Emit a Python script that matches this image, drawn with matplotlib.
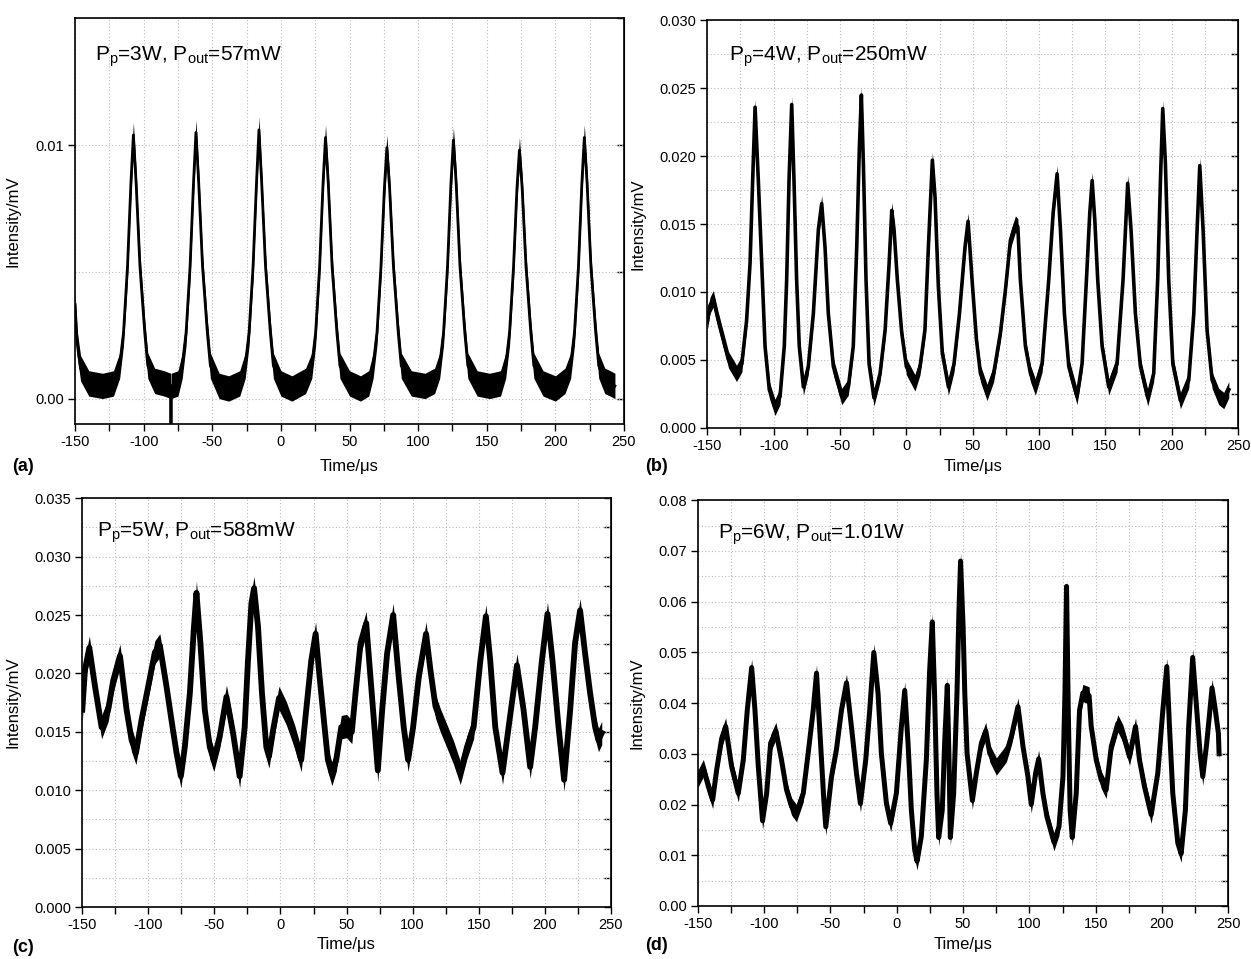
import matplotlib
matplotlib.use("Agg")
import matplotlib.pyplot as plt
from matplotlib.ticker import MultipleLocator, FormatStrFormatter

plt.rcParams["font.family"] = ["Liberation Sans", "DejaVu Sans"]
plt.rcParams["mathtext.default"] = "regular"
plt.rcParams["axes.unicode_minus"] = False

# (a) Pp=3W — times (us) and intensities (mV)
T_A = [-150, -148.5, -146, -140, -130, -122,
       -117.5, -114.7, -111.8, -109.3, -107.5, -105.5, -102.7, -99.2, -97.0,
       -92, -85, -80.3, -80.1, -79.9, -75,
       -71.9, -69.1, -66.2, -63.7, -61.9, -59.9, -57.1, -53.6, -51.4,
       -45, -38, -30,
       -26, -23.2, -20.3, -17.8, -16, -14, -11.2, -7.7, -5.5,
       0, 8, 18,
       22.5, 25.3, 28.2, 30.7, 32.5, 34.5, 37.3, 40.8, 43,
       50, 58, 64,
       67.2, 70, 72.9, 75.4, 77.2, 79.2, 82, 85.5, 87.7,
       95, 105, 112,
       115.7, 118.5, 121.4, 123.9, 125.7, 127.7, 130.5, 134, 136.2,
       143, 152, 160,
       163.8, 166.6, 169.5, 172, 173.8, 175.8, 178.6, 182.1, 184.3,
       191, 200, 207,
       211.1, 213.9, 216.8, 219.3, 221.1, 223.1, 225.9, 229.4, 231.6,
       236, 240, 243.4]
I_A = [0.0037, 0.0022, 0.0012, 0.0006, 0.0005, 0.0006,
       0.0013, 0.0026, 0.0052, 0.0085, 0.0104, 0.0085, 0.0052, 0.0026, 0.0013,
       0.0007, 0.0006, 0.0005, -0.0013, 0.0005, 0.0006,
       0.0013, 0.0026, 0.0052, 0.0085, 0.0105, 0.0085, 0.0052, 0.0026, 0.0013,
       0.0005, 0.0004, 0.0006,
       0.0013, 0.0026, 0.0052, 0.0085, 0.0106, 0.0085, 0.0052, 0.0026, 0.0013,
       0.0006, 0.0004, 0.0007,
       0.0013, 0.0026, 0.0052, 0.0085, 0.0103, 0.0085, 0.0052, 0.0026, 0.0013,
       0.0006, 0.0004, 0.0006,
       0.0013, 0.0026, 0.0052, 0.0083, 0.0099, 0.0083, 0.0052, 0.0026, 0.0013,
       0.0006, 0.0005, 0.0007,
       0.0013, 0.0026, 0.0052, 0.0085, 0.0102, 0.0085, 0.0052, 0.0026, 0.0013,
       0.0006, 0.0005, 0.0006,
       0.0013, 0.0026, 0.0052, 0.0083, 0.0098, 0.0083, 0.0052, 0.0026, 0.0013,
       0.0006, 0.0004, 0.0007,
       0.0013, 0.0026, 0.0052, 0.0085, 0.0103, 0.0085, 0.0052, 0.0026, 0.0013,
       0.0007, 0.0006, 0.0005]

# (b) Pp=4W
T_B = [-150, -148, -145.5, -142, -138, -134, -128, -124, -120.4, -117.8,
       -115.8, -114, -111.6, -109, -106.5, -103.3, -99, -95.2, -92, -90.2,
       -88.4, -86.4, -84.7, -82.7, -80.7, -77.6, -73.9, -70.1, -66.3, -63.8,
       -61.3, -58.8, -55, -48.7, -43.7, -40, -37.4, -35.4, -33.9, -32.4,
       -30.4, -28.1, -24.4, -19.8, -16, -13, -11, -9.3, -6.8, -3.5,
       0, 6.5, 10.3, 14, 16.6, 19.6, 21.6, 24.1, 27.1, 31.7,
       35.9, 40, 44.2, 46.5, 49.5, 52.8, 55.8, 60.8, 65.8, 70.9,
       74.6, 78.4, 82.2, 84, 85.9, 89.7, 93.5, 97.2, 102.3, 107.3,
       110.6, 113.6, 116.1, 119.1, 122.4, 128.6, 132.4, 135.7, 138.2, 140,
       142, 144.2, 147.5, 152.5, 158.8, 163.3, 166.8, 169.3, 172.6, 176.4,
       181.9, 186.4, 189.4, 191.5, 193.2, 195.2, 197.7, 200.8, 206.5, 212.8,
       216.6, 219.1, 221.1, 223.6, 226.6, 230.4, 235.4, 239.2, 243]
I_B = [0.0078, 0.0090, 0.0095, 0.0080, 0.0065, 0.0050, 0.0040, 0.0047, 0.0079, 0.0121,
       0.0183, 0.0236, 0.0183, 0.0121, 0.0060, 0.0028, 0.0015, 0.0023, 0.0060, 0.0109,
       0.0183, 0.0238, 0.0183, 0.0109, 0.0060, 0.0030, 0.0045, 0.0084, 0.0146, 0.0165,
       0.0133, 0.0084, 0.0045, 0.0023, 0.0030, 0.0060, 0.0133, 0.0207, 0.0245, 0.0195,
       0.0109, 0.0047, 0.0022, 0.0040, 0.0072, 0.0121, 0.0160, 0.0146, 0.0109, 0.0070,
       0.0045, 0.0033, 0.0045, 0.0072, 0.0133, 0.0197, 0.0170, 0.0104, 0.0055, 0.0030,
       0.0047, 0.0084, 0.0133, 0.0152, 0.0109, 0.0065, 0.0040, 0.0026, 0.0040, 0.0070,
       0.0101, 0.0138, 0.0150, 0.0148, 0.0109, 0.0060, 0.0040, 0.0030, 0.0047, 0.0109,
       0.0158, 0.0187, 0.0146, 0.0084, 0.0045, 0.0023, 0.0047, 0.0109, 0.0158, 0.0182,
       0.0153, 0.0109, 0.0060, 0.0030, 0.0047, 0.0109, 0.0180, 0.0146, 0.0084, 0.0045,
       0.0022, 0.0040, 0.0109, 0.0183, 0.0235, 0.0195, 0.0109, 0.0047, 0.0020, 0.0035,
       0.0084, 0.0146, 0.0193, 0.0146, 0.0072, 0.0035, 0.0023, 0.0020, 0.0028]

# (c) Pp=5W
T_C = [-150, -148, -144.7, -140.4, -135.4, -130.4, -126.6, -121.5, -116.5, -112.7,
       -109.4, -105.2, -100.1, -95.1, -91.3, -86.3, -82.5, -78.7, -75.4, -72.4,
       -68.6, -65.6, -63.6, -60.6, -57.3, -53.5, -50.5, -46, -40.9, -35.9,
       -30.9, -27.1, -24.6, -22, -20, -17, -14, -10.7, -8.7, -5.2,
       -1.1, 4.4, 10.7, 15.7, 19.5, 23.3, 26.6, 29.6, 33.4, 35.9,
       38.9, 42.2, 46, 50, 54, 56.8, 60.6, 64.9, 68.1, 70.7,
       73.7, 77, 80.7, 85.3, 89.5, 93.3, 96.6, 100.4, 104.7, 110.2,
       113.5, 117.3, 121, 126.1, 131.1, 136.1, 141.2, 146.2, 151.3, 155.5,
       158.8, 162.6, 168.1, 172.7, 179, 184, 189, 192.8, 197.9, 202.1,
       205.9, 210.5, 214.7, 219.3, 223, 226.8, 230.6, 234.4, 238.2, 240.7,
       243.2]
I_C = [0.0169, 0.0203, 0.0222, 0.0189, 0.0154, 0.0169, 0.0194, 0.0215, 0.0169, 0.0143,
       0.0132, 0.0160, 0.0189, 0.0218, 0.0224, 0.0189, 0.0160, 0.0132, 0.0112, 0.0137,
       0.0183, 0.0238, 0.0269, 0.0226, 0.0169, 0.0137, 0.0126, 0.0146, 0.0180, 0.0149,
       0.0112, 0.0154, 0.0211, 0.0260, 0.0273, 0.0240, 0.0183, 0.0137, 0.0129, 0.0154,
       0.0179, 0.0166, 0.0146, 0.0126, 0.0169, 0.0211, 0.0234, 0.0197, 0.0154, 0.0126,
       0.0114, 0.0126, 0.0154, 0.0155, 0.0150, 0.0183, 0.0226, 0.0243, 0.0197, 0.0160,
       0.0117, 0.0169, 0.0217, 0.0250, 0.0197, 0.0154, 0.0126, 0.0154, 0.0197, 0.0234,
       0.0203, 0.0172, 0.0160, 0.0146, 0.0132, 0.0115, 0.0137, 0.0154, 0.0211, 0.0249,
       0.0211, 0.0154, 0.0115, 0.0154, 0.0207, 0.0169, 0.0120, 0.0154, 0.0211, 0.0251,
       0.0211, 0.0154, 0.0109, 0.0169, 0.0226, 0.0254, 0.0217, 0.0183, 0.0154, 0.0143,
       0.0149]

# (d) Pp=6W
T_D = [-150, -145.8, -142, -138.8, -135.8, -132, -129, -124.5, -119.5, -115.7,
       -112.7, -109.4, -106.9, -104.4, -101.2, -98.1, -95.1, -91.1, -86.9, -83.1,
       -79.3, -75.6, -70.5, -66.8, -63, -60.5, -57.5, -55, -53.5, -49.2,
       -45.5, -41.7, -37.9, -34.2, -30.4, -27.4, -23.4, -20.4, -17.3, -14.1,
       -11.6, -7.8, -4.6, -0.3, 3.5, 6, 8.5, 11, 13.5, 15.3,
       18.5, 22.3, 24.8, 26.8, 28.5, 30.3, 31.6, 34.3, 36.1, 38.1,
       39.4, 40.4, 42.9, 45.4, 46.9, 48.1, 50, 51.3, 53, 57,
       60, 63.8, 67.1, 70.1, 75.1, 78.9, 82.6, 86.4, 91.4, 95.2,
       98.9, 101.4, 104.7, 107, 110.2, 113.2, 118.5, 122.3, 125.3, 126.8,
       128, 129.3, 130.7, 132.3, 135.3, 137.8, 140.3, 145, 146.6, 150.4,
       154.1, 157.9, 161.7, 166.7, 170.5, 175.5, 180, 183, 186.8, 191.8,
       196.8, 200.6, 203.6, 205.6, 208.1, 211.9, 214.4, 217.6, 220.1, 223.1,
       226.2, 228.7, 230.7, 233.7, 237.7, 240.2, 242.5, 243]
I_D = [0.0250, 0.0272, 0.0235, 0.0209, 0.0268, 0.0330, 0.0354, 0.0275, 0.0222, 0.0288,
       0.0386, 0.0470, 0.0386, 0.0275, 0.0168, 0.0222, 0.0321, 0.0345, 0.0288, 0.0229,
       0.0196, 0.0183, 0.0222, 0.0301, 0.0386, 0.0459, 0.0321, 0.0209, 0.0156, 0.0255,
       0.0308, 0.0386, 0.0440, 0.0354, 0.0262, 0.0202, 0.0288, 0.0386, 0.0500, 0.0419,
       0.0301, 0.0202, 0.0163, 0.0222, 0.0354, 0.0425, 0.0321, 0.0189, 0.0111, 0.0088,
       0.0137, 0.0288, 0.0465, 0.0560, 0.0419, 0.0222, 0.0135, 0.0189, 0.0321, 0.0435,
       0.0288, 0.0135, 0.0222, 0.0419, 0.0584, 0.0680, 0.0551, 0.0419, 0.0301, 0.0208,
       0.0262, 0.0321, 0.0345, 0.0301, 0.0275, 0.0288, 0.0301, 0.0334, 0.0393, 0.0314,
       0.0255, 0.0200, 0.0262, 0.0290, 0.0222, 0.0176, 0.0126, 0.0156, 0.0255, 0.0419,
       0.0630, 0.0386, 0.0189, 0.0135, 0.0222, 0.0386, 0.0420, 0.0415, 0.0354, 0.0288,
       0.0249, 0.0229, 0.0314, 0.0360, 0.0340, 0.0294, 0.0354, 0.0288, 0.0235, 0.0180,
       0.0262, 0.0386, 0.0472, 0.0354, 0.0222, 0.0124, 0.0103, 0.0189, 0.0354, 0.0490,
       0.0386, 0.0301, 0.0255, 0.0321, 0.0430, 0.0386, 0.0340, 0.0300]

NOTES = [r"P$_p$=3W, P$_{out}$=57mW", r"P$_p$=4W, P$_{out}$=250mW",
         r"P$_p$=5W, P$_{out}$=588mW", r"P$_p$=6W, P$_{out}$=1.01W"]
LETTERS = ["(a)", "(b)", "(c)", "(d)"]

fig = plt.figure(figsize=(12.51, 9.59), dpi=100)

panels = [
    # rect, t, v, noise half-width, line width, ylim, major, minor, fmt,
    # ylabel x, xlabel y, note position
    ([0.0600, 0.5579, 0.4388, 0.4230], T_A, I_A, 0.0005, 2.0, (-0.001, 0.015),
     0.01, 0.005, "%.2f", -0.100, -0.086, (0.036, 0.895)),
    ([0.5654, 0.5540, 0.4243, 0.4248], T_B, I_B, 0.0006, 2.6, (0.0, 0.030),
     0.005, 0.0025, "%.3f", -0.117, -0.077, (0.040, 0.900)),
    ([0.0658, 0.0541, 0.4224, 0.4264], T_C, I_C, 0.0010, 4.2, (0.0, 0.035),
     0.005, 0.0025, "%.3f", -0.117, -0.073, (0.028, 0.905)),
    ([0.5578, 0.0553, 0.4241, 0.4231], T_D, I_D, 0.0017, 3.6, (0.0, 0.08),
     0.01, 0.005, "%.2f", -0.100, -0.076, (0.038, 0.905)),
]

for (rect, t, v, noise, lw, ylim, major, minor, fmt, ylx, xly, npos), note in zip(panels, NOTES):
    ax = fig.add_axes(rect)
    ax.fill_between(t, [a - noise for a in v], [a + noise for a in v],
                    color="black", linewidth=0)
    ax.plot(t, v, color="black", linewidth=lw, solid_joinstyle="round")

    ax.set_xlim(-150, 250)
    ax.set_ylim(*ylim)
    ax.xaxis.set_major_locator(MultipleLocator(50))
    ax.xaxis.set_minor_locator(MultipleLocator(25))
    ax.yaxis.set_major_locator(MultipleLocator(major))
    ax.yaxis.set_minor_locator(MultipleLocator(minor))
    ax.yaxis.set_major_formatter(FormatStrFormatter(fmt))
    ax.grid(which="both", color="#bcbcbc", linestyle=(0, (1, 2)), linewidth=0.8)
    ax.set_axisbelow(True)
    ax.tick_params(which="both", direction="out", length=5, width=1.0,
                   labelsize=10.5, pad=3)
    ax.tick_params(axis="y", which="minor", left=False)
    for s in ax.spines.values():
        s.set_linewidth(1.2)

    right = ax.secondary_yaxis("right")
    right.yaxis.set_major_locator(MultipleLocator(minor))
    right.tick_params(direction="in", length=5, width=1.0, labelright=False)

    ax.set_xlabel("Time/\u03bcs", fontsize=12)
    ax.set_ylabel("Intensity/mV", fontsize=12)
    ax.xaxis.set_label_coords(0.5, xly)
    ax.yaxis.set_label_coords(ylx, 0.5)
    ax.text(npos[0], npos[1], note, transform=ax.transAxes, fontsize=15,
            ha="left", va="baseline")

fig.text(0.010, 0.514, LETTERS[0], fontsize=13, fontweight="bold", va="center")
fig.text(0.516, 0.514, LETTERS[1], fontsize=13, fontweight="bold", va="center")
fig.text(0.010, 0.0125, LETTERS[2], fontsize=13, fontweight="bold", va="center")
fig.text(0.516, 0.0145, LETTERS[3], fontsize=13, fontweight="bold", va="center")

fig.savefig("out.png", dpi=100)
